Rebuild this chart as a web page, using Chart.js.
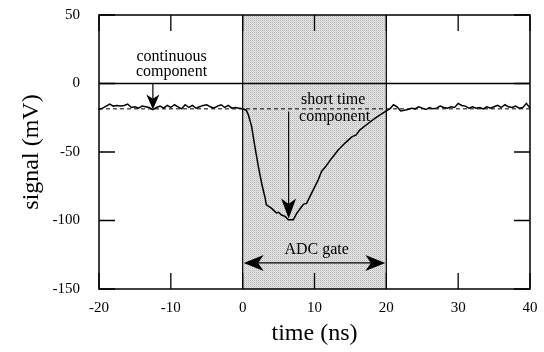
<!DOCTYPE html>
<html>
<head>
<meta charset="utf-8">
<script src="https://cdn.jsdelivr.net/npm/chart.js@4.4.1/dist/chart.umd.min.js"></script>
<style>
  html, body { margin: 0; padding: 0; background: #ffffff; }
  canvas { display: block; }
</style>
</head>
<body>
<canvas id="c" width="544" height="352"></canvas>
<script>
// ---- data ----
const timeNs = [
  -20, -19.5, -19, -18.5, -18, -17.5, -17, -16.5, -16, -15.5,
  -15, -14.5, -14, -13.5, -13, -12.5, -12, -11.5, -11, -10.5,
  -10, -9.5, -9, -8.5, -8, -7.5, -7, -6.5, -6, -5.5,
  -5, -4.5, -4, -3.5, -3, -2.5, -2, -1.5, -1, -0.5,
  0, 0.5, 0.8, 1.25, 1.7, 2.2, 2.65, 3.1, 3.3, 4.0,
  4.4, 4.7, 5.0, 5.4, 5.9, 6.35, 7.05, 7.5, 8.2, 8.5,
  8.9, 9.6, 10.5, 11.0, 11.5, 12.4, 13.3, 14.25, 15.2, 15.8,
  16.3, 17.5, 18.4, 19.4, 20.0, 20.5, 21, 21.5, 22, 22.5,
  23, 23.5, 24, 24.5, 25, 25.5, 26, 26.5, 27, 27.5,
  28, 28.5, 29, 29.5, 30, 30.5, 31, 31.5, 32, 32.5,
  33, 33.5, 34, 34.5, 35, 35.5, 36, 36.5, 37, 37.5,
  38, 38.5, 39, 39.5, 40
];
const signalMv = [
  -19, -18, -16.5, -15, -16.5, -16, -16.5, -16, -15, -17.5,
  -17, -18, -16.5, -17, -17.5, -19, -17.5, -16.5, -18, -16,
  -17.5, -15.5, -17, -18.5, -15.5, -17.5, -16, -18, -17, -16,
  -15.5, -17, -18, -16.5, -15.5, -17.5, -16, -18, -17.5, -18,
  -18.5, -19.5, -23, -31.5, -46, -61, -73, -83, -88.5, -91,
  -93, -94.5, -94, -96, -97, -99.5, -99.5, -95, -90, -88,
  -87.5, -80, -70.5, -64, -61, -54.5, -48.5, -43.5, -39, -37.5,
  -34, -29, -25.5, -22, -20, -18.5, -15.5, -17, -20, -19.5,
  -19, -18, -18.5, -17, -18, -19, -17.5, -18.5, -18, -16.5,
  -17.5, -18, -17, -17.5, -14.5, -16, -16.5, -18, -17, -18,
  -17.5, -18.5, -17, -18, -17, -16, -17.5, -15.5, -17, -17.5,
  -16.5, -18, -17.5, -14.5, -18
];
const baselineMv = -18.5;          // dashed "continuous component" level
const gateNs = [0, 20];            // ADC gate window
const xTicks = [-20, -10, 0, 10, 20, 30, 40];
const yTicks = [-150, -100, -50, 0, 50];
const xRange = [-20, 40];
const yRange = [-150, 50];

// annotations (data coordinates)
const labelTexts = ["continuous", "component", "short time", "component", "ADC gate"];
const labelX = [-9.9, -9.9, 12.6, 12.8, 10.3];
const labelY = [19.6, 8.8, -12, -24.2, -121.5];
const contArrow = { x: -12.5, from: 0, to: -19 };
const shortArrow = { x: 6.4, from: -20.5, to: -98.5 };
const gateArrow = { y: -131, from: 0, to: 20 };

// ---- chart ----
const serif = '"Liberation Serif", "Times New Roman", serif';

function makePattern() {
  const p = document.createElement('canvas');
  p.width = 2; p.height = 2;
  const g = p.getContext('2d');
  g.fillStyle = '#e6e6e6'; g.fillRect(0, 0, 2, 2);
  g.fillStyle = '#b4b4b4'; g.fillRect(0, 0, 1, 1);
  g.fillStyle = '#d2d2d2'; g.fillRect(1, 1, 1, 1);
  return document.getElementById('c').getContext('2d').createPattern(p, 'repeat');
}

function arrowHead(ctx, tx, ty, dx, dy, len, hw) {
  const px = -dy, py = dx;
  const bx = tx - dx * len, by = ty - dy * len;
  const nx = tx - dx * len * 0.72, ny = ty - dy * len * 0.72;
  ctx.beginPath();
  ctx.moveTo(tx, ty);
  ctx.lineTo(bx + px * hw, by + py * hw);
  ctx.lineTo(nx, ny);
  ctx.lineTo(bx - px * hw, by - py * hw);
  ctx.closePath();
  ctx.fill();
}

const overlay = {
  id: 'overlay',
  afterDatasetsDraw(chart) {
    const { ctx, chartArea: a, scales: { x, y } } = chart;
    ctx.save();
    ctx.strokeStyle = '#000';
    ctx.fillStyle = '#000';
    // inward tick marks on all four sides
    ctx.lineWidth = 1.3;
    ctx.beginPath();
    x.ticks.forEach(t => {
      const px = x.getPixelForValue(t.value);
      ctx.moveTo(px, a.bottom); ctx.lineTo(px, a.bottom - 16);
      ctx.moveTo(px, a.top); ctx.lineTo(px, a.top + 16);
    });
    y.ticks.forEach(t => {
      const py = y.getPixelForValue(t.value);
      ctx.moveTo(a.left, py); ctx.lineTo(a.left + 16, py);
      ctx.moveTo(a.right, py); ctx.lineTo(a.right - 16, py);
    });
    ctx.stroke();
    // frame
    ctx.lineWidth = 1.5;
    ctx.strokeRect(a.left, a.top, a.right - a.left, a.bottom - a.top);

    // arrows
    ctx.lineWidth = 1.2;
    // continuous component
    let ax = x.getPixelForValue(contArrow.x);
    let y0 = y.getPixelForValue(contArrow.from), y1 = y.getPixelForValue(contArrow.to);
    ctx.beginPath(); ctx.moveTo(ax, y0); ctx.lineTo(ax, y1 - 8); ctx.stroke();
    arrowHead(ctx, ax, y1, 0, 1, 15, 6.5);
    // short time component
    ax = x.getPixelForValue(shortArrow.x);
    y0 = y.getPixelForValue(shortArrow.from); y1 = y.getPixelForValue(shortArrow.to);
    ctx.beginPath(); ctx.moveTo(ax, y0); ctx.lineTo(ax, y1 - 10); ctx.stroke();
    arrowHead(ctx, ax, y1, 0, 1, 20, 7.5);
    // ADC gate double arrow
    const gy = y.getPixelForValue(gateArrow.y);
    const gx0 = x.getPixelForValue(gateArrow.from), gx1 = x.getPixelForValue(gateArrow.to);
    ctx.beginPath(); ctx.moveTo(gx0 + 10, gy); ctx.lineTo(gx1 - 10, gy); ctx.stroke();
    arrowHead(ctx, gx0 + 1, gy, -1, 0, 20, 8);
    arrowHead(ctx, gx1 - 1, gy, 1, 0, 20, 8);

    // text labels
    ctx.font = '16px ' + serif;
    ctx.textAlign = 'center';
    ctx.textBaseline = 'middle';
    labelTexts.forEach((s, i) => {
      ctx.fillText(s, x.getPixelForValue(labelX[i]), y.getPixelForValue(labelY[i]));
    });
    ctx.restore();
  }
};

new Chart(document.getElementById('c'), {
  type: 'line',
  data: {
    datasets: [
      {
        data: timeNs.map((t, i) => ({ x: t, y: signalMv[i] })),
        borderColor: '#000', borderWidth: 1.5, pointRadius: 0, tension: 0, fill: false, order: 0
      },
      {
        data: [{ x: xRange[0], y: baselineMv }, { x: xRange[1], y: baselineMv }],
        borderColor: '#000', borderWidth: 1, borderDash: [4, 3], pointRadius: 0, fill: false, order: 1
      },
      {
        data: [{ x: xRange[0], y: 0 }, { x: xRange[1], y: 0 }],
        borderColor: '#000', borderWidth: 1.5, pointRadius: 0, fill: false, order: 2
      },
      {
        data: [{ x: gateNs[0], y: yRange[0] }, { x: gateNs[0], y: yRange[1] }],
        borderColor: '#000', borderWidth: 1.2, pointRadius: 0, fill: false, order: 3
      },
      {
        data: [{ x: gateNs[1], y: yRange[0] }, { x: gateNs[1], y: yRange[1] }],
        borderColor: '#000', borderWidth: 1.2, pointRadius: 0, fill: false, order: 4
      },
      {
        data: [{ x: gateNs[0], y: yRange[1] }, { x: gateNs[1], y: yRange[1] }],
        borderWidth: 0, pointRadius: 0, fill: 'start', backgroundColor: makePattern(), order: 10
      }
    ]
  },
  options: {
    responsive: false,
    animation: false,
    events: [],
    layout: { padding: { left: 0, right: 14, top: 15, bottom: 0 } },
    plugins: { legend: { display: false }, tooltip: { enabled: false } },
    scales: {
      x: {
        type: 'linear', min: xRange[0], max: xRange[1],
        afterBuildTicks: s => { s.ticks = xTicks.map(v => ({ value: v })); },
        afterFit: s => { s.height = 63; s.paddingLeft = 0; s.paddingRight = 0; },
        grid: { display: false, drawTicks: false },
        border: { display: false },
        ticks: { color: '#000', font: { family: serif, size: 15 }, padding: 10, maxRotation: 0 },
        title: { display: true, text: 'time (ns)', color: '#000', font: { family: serif, size: 24 }, padding: { top: 0, bottom: 4 } }
      },
      y: {
        type: 'linear', min: yRange[0], max: yRange[1],
        afterBuildTicks: s => { s.ticks = yTicks.map(v => ({ value: v })); },
        afterFit: s => { s.width = 99; s.paddingTop = 0; s.paddingBottom = 0; },
        grid: { display: false, drawTicks: false },
        border: { display: false },
        ticks: { color: '#000', font: { family: serif, size: 15 }, padding: 19 },
        title: { display: true, text: 'signal (mV)', color: '#000', font: { family: serif, size: 24 }, padding: { top: 17, bottom: 0 } }
      }
    }
  },
  plugins: [overlay]
});
</script>
</body>
</html>
